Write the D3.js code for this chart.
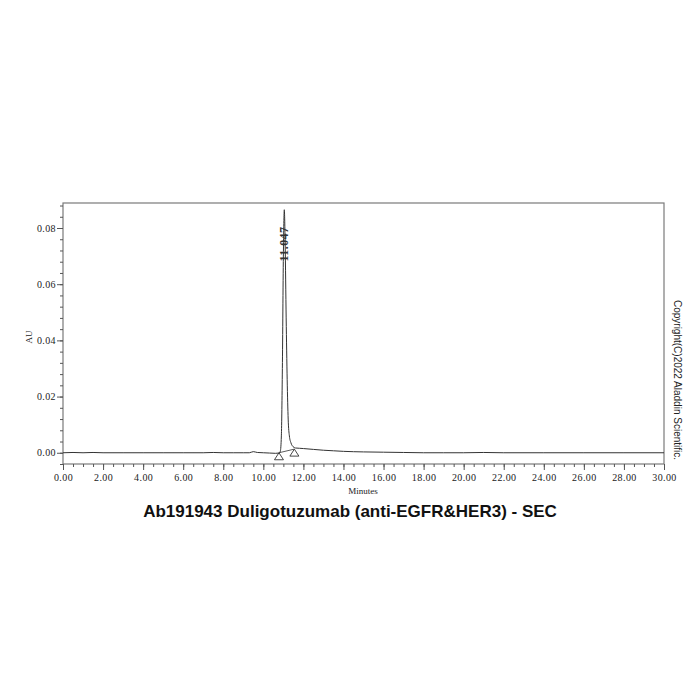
<!DOCTYPE html>
<html>
<head>
    <meta charset="UTF-8">
    <title>Ab191943 SEC</title>
    <script src="https://d3js.org/d3.v7.min.js"></script>
    <style>
        body { margin: 0; background: #fff; }
        .tick-label { font-family: "Liberation Serif", "DejaVu Serif", serif; font-size: 10px; fill: #222; letter-spacing: 0.4px; }
        .axis-title { font-family: "Liberation Serif", "DejaVu Serif", serif; font-size: 9px; fill: #222; }
    </style>
</head>
<body>
    <svg id="chart"></svg>
    <script>
        // chromatogram (minutes, AU)
        const times = [0, 0.5, 1, 1.5, 2, 3, 4, 5, 6, 7, 7.5, 8, 8.5, 9, 9.3, 9.5, 9.7, 10, 10.3, 10.6, 10.8,
                       10.85, 10.9, 10.95, 11.0, 11.047, 11.09, 11.14, 11.19, 11.24, 11.3, 11.38, 11.48, 11.6,
                       11.8, 12.0, 12.5, 13.0, 13.5, 14.0, 15.0, 16.0, 17.0, 18.0, 19, 20, 21, 22, 24, 26, 28, 30];
        const au = [0.0000, 0.0001, 0.0000, 0.0001, 0.0000, 0.0000, 0.0000, 0.0000, 0.0000, 0.0000, 0.0001, 0.0000, 0.0000, 0.0000, 0.0000, 0.0004, 0.0001, 0.0000, -0.0001, -0.0002, -0.0001,
                    0.0006, 0.006, 0.030, 0.070, 0.0865, 0.074, 0.048, 0.026, 0.012, 0.006, 0.0035, 0.0022, 0.0017,
                    0.0016, 0.0015, 0.0012, 0.0009, 0.0007, 0.0005, 0.0003, 0.0002, 0.0001, 0.0000, 0.0000, 0.0000, 0.0001, 0.0000, 0.0000, 0.0000, 0.0000, 0.0000];

        const peakTime = 11.047;
        const peakLabel = "11.047";
        const peakStart = [10.78, 0.0000];
        const peakEnd = [11.55, 0.0013];

        const yMajor = [0, 0.02, 0.04, 0.06, 0.08];
        const yMinor = d3.range(-0.004, 0.0889, 0.004);
        const xMajor = d3.range(0, 30.01, 2);
        const xMinor = d3.range(0, 30.01, 0.5);

        const title = "Ab191943 Duligotuzumab (anti-EGFR&HER3) - SEC";
        const copyright = "Copyright(C)2022 Aladdin Scientific.";

        const width = 700, height = 700;
        const plotLeft = 63, plotRight = 664, plotTop = 203, plotBottom = 464;

        const svg = d3.select("#chart").attr("width", width).attr("height", height);

        const x = d3.scaleLinear().domain([0, 30]).range([plotLeft, plotRight]);
        const y = d3.scaleLinear().domain([-0.004, 0.0889]).range([plotBottom, plotTop]);

        const fmt = d3.format(".2f");

        // frame
        svg.append("rect")
            .attr("x", plotLeft).attr("y", plotTop)
            .attr("width", plotRight - plotLeft).attr("height", plotBottom - plotTop)
            .attr("fill", "none").attr("stroke", "#7a7a7a").attr("stroke-width", 1.2);

        // y axis
        const yAxisMinor = svg.append("g").attr("transform", `translate(${plotLeft},0)`)
            .call(d3.axisLeft(y).tickValues(yMinor).tickSize(3).tickFormat(""));
        const yAxis = svg.append("g").attr("transform", `translate(${plotLeft},0)`)
            .call(d3.axisLeft(y).tickValues(yMajor).tickSize(6).tickPadding(1).tickFormat(fmt));

        // x axis
        const xAxisMinor = svg.append("g").attr("transform", `translate(0,${plotBottom})`)
            .call(d3.axisBottom(x).tickValues(xMinor).tickSize(3).tickFormat(""));
        const xAxis = svg.append("g").attr("transform", `translate(0,${plotBottom})`)
            .call(d3.axisBottom(x).tickValues(xMajor).tickSize(6).tickPadding(4).tickFormat(fmt));

        [yAxisMinor, yAxis, xAxisMinor, xAxis].forEach(g => {
            g.select(".domain").remove();
            g.selectAll(".tick line").attr("stroke", "#555");
        });
        svg.selectAll(".tick text").attr("class", "tick-label").attr("font-size", null).attr("font-family", null);

        // axis titles
        svg.append("text").attr("class", "axis-title")
            .attr("transform", "translate(32,337) rotate(-90)")
            .attr("text-anchor", "middle").text("AU");
        svg.append("text").attr("class", "axis-title")
            .attr("x", 363).attr("y", 494)
            .attr("text-anchor", "middle").text("Minutes");

        // trace
        const pts = times.map((t, i) => [t, au[i]]);
        svg.append("path")
            .datum(pts)
            .attr("fill", "none")
            .attr("stroke", "#333")
            .attr("stroke-width", 1)
            .attr("d", d3.line().x(d => x(d[0])).y(d => y(d[1])).curve(d3.curveMonotoneX));

        // integration baseline + markers
        svg.append("line")
            .attr("x1", x(peakStart[0])).attr("y1", y(peakStart[1]))
            .attr("x2", x(peakEnd[0])).attr("y2", y(peakEnd[1]))
            .attr("stroke", "#333").attr("stroke-width", 0.8);

        [peakStart, peakEnd].forEach(p => {
            const px = x(p[0]), py = y(p[1]);
            svg.append("path")
                .attr("d", `M${px},${py}L${px - 4.5},${py + 7}L${px + 4.5},${py + 7}Z`)
                .attr("fill", "none").attr("stroke", "#333").attr("stroke-width", 0.9);
        });

        // peak label
        svg.append("text")
            .attr("transform", `translate(${x(peakTime)},244) rotate(-90)`)
            .attr("text-anchor", "middle")
            .attr("dominant-baseline", "central")
            .attr("font-family", "'Liberation Serif', 'DejaVu Serif', serif")
            .attr("font-size", 12)
            .attr("font-weight", "bold")
            .attr("fill", "#333")
            .attr("letter-spacing", 0.4)
            .text(peakLabel);

        // title
        svg.append("text")
            .attr("x", 350).attr("y", 517)
            .attr("text-anchor", "middle")
            .attr("font-family", "'Liberation Sans', Arial, sans-serif")
            .attr("font-size", 17)
            .attr("font-weight", "bold")
            .attr("fill", "#111")
            .text(title);

        // copyright
        svg.append("text")
            .attr("transform", "translate(674,380) rotate(90)")
            .attr("text-anchor", "middle")
            .attr("font-family", "'Liberation Sans', Arial, sans-serif")
            .attr("font-size", 10)
            .attr("fill", "#222")
            .text(copyright);
    </script>
</body>
</html>
